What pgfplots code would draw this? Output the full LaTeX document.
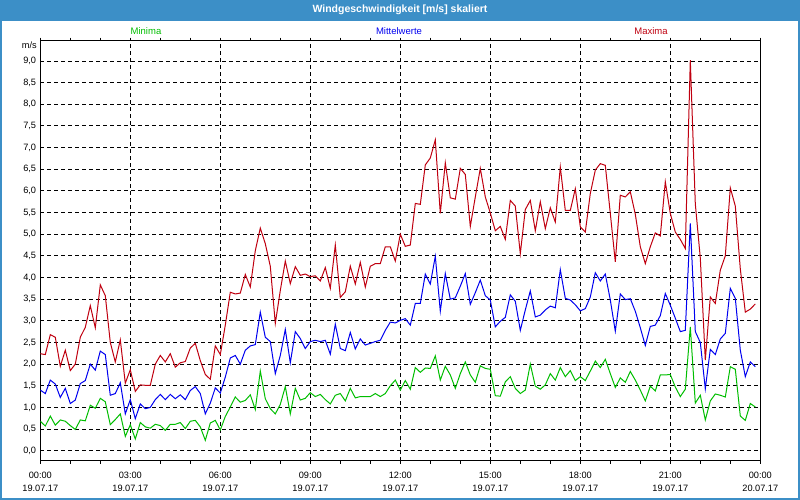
\documentclass[border=0pt]{standalone}
\usepackage{fontspec}
\setmainfont{Liberation Sans}
\usepackage{pgfplots}
\usepackage{pgfplotstable}
\pgfplotsset{compat=1.18}

\definecolor{barblue}{RGB}{60,143,199}
\definecolor{cmin}{RGB}{0,190,0}
\definecolor{cmean}{RGB}{0,0,240}
\definecolor{cmax}{RGB}{192,0,16}

% k = 10-minute step index from 19.07.17 00:00
\pgfplotstableread{
k lo avg hi
0 0.68 1.40 2.24
1 0.57 1.32 2.22
2 0.80 1.63 2.68
3 0.59 1.54 2.62
4 0.71 1.23 1.95
5 0.68 1.44 2.32
6 0.58 1.09 1.85
7 0.49 1.17 2.00
8 0.71 1.55 2.62
9 0.69 1.62 2.85
10 1.05 2.00 3.35
11 0.98 1.86 2.84
12 1.21 2.30 3.83
13 1.13 2.22 3.58
14 0.60 1.28 2.50
15 0.72 1.32 2.05
16 0.85 1.57 2.56
17 0.33 0.85 1.56
18 0.60 1.18 1.87
19 0.27 0.74 1.37
20 0.65 1.08 1.52
21 0.55 0.97 1.51
22 0.52 1.00 1.51
23 0.61 1.18 2.00
24 0.58 1.30 2.20
25 0.47 1.18 2.05
26 0.61 1.30 2.24
27 0.61 1.20 1.93
28 0.65 1.29 2.03
29 0.51 1.18 2.06
30 0.68 1.39 2.37
31 0.70 1.48 2.48
32 0.55 1.32 2.08
33 0.24 0.85 1.76
34 0.64 1.10 1.65
35 0.70 1.45 2.42
36 0.48 1.33 2.22
37 0.79 1.70 2.90
38 1.01 2.14 3.66
39 1.24 2.20 3.62
40 1.12 2.00 3.64
41 1.16 2.32 4.07
42 1.29 2.42 3.78
43 0.95 2.45 4.62
44 1.84 3.20 5.14
45 1.20 2.62 4.78
46 0.97 2.52 4.26
47 0.85 1.78 2.94
48 1.07 2.20 3.70
49 1.48 2.80 4.38
50 0.85 2.03 3.86
51 1.44 2.75 4.25
52 1.17 2.59 4.05
53 1.21 2.36 4.08
54 1.34 2.52 4.02
55 1.25 2.55 4.04
56 1.30 2.52 3.92
57 1.18 2.55 4.23
58 1.08 2.23 3.75
59 1.28 2.92 4.75
60 1.32 2.36 3.54
61 1.15 2.31 3.67
62 1.44 2.73 4.26
63 1.22 2.35 3.85
64 1.25 2.58 4.35
65 1.25 2.44 3.78
66 1.25 2.48 4.26
67 1.32 2.52 4.32
68 1.25 2.55 4.32
69 1.32 2.78 4.71
70 1.50 2.97 4.71
71 1.63 2.95 4.38
72 1.40 3.01 5.00
73 1.62 3.05 4.72
74 1.42 2.90 4.75
75 1.92 3.40 5.71
76 1.81 3.40 5.69
77 1.91 4.08 6.60
78 1.90 3.85 6.76
79 2.19 4.49 7.18
80 1.63 3.22 5.48
81 1.95 4.09 6.65
82 1.75 3.50 5.84
83 1.44 3.53 5.81
84 1.78 3.80 6.52
85 2.05 4.09 6.38
86 1.75 3.38 5.18
87 1.58 3.65 5.86
88 1.96 3.94 6.52
89 1.90 3.58 5.86
90 1.88 3.48 5.49
91 1.27 2.86 5.08
92 1.26 2.99 5.18
93 1.59 3.08 4.88
94 1.71 3.60 5.78
95 1.44 3.45 5.65
96 1.32 2.78 4.55
97 1.40 3.25 5.57
98 2.00 3.69 5.78
99 1.49 3.09 5.08
100 1.42 3.13 5.75
101 1.52 3.25 5.13
102 1.78 3.34 5.61
103 1.63 3.30 5.28
104 1.92 4.18 6.55
105 1.71 3.52 5.55
106 1.85 3.48 5.55
107 1.62 3.37 6.05
108 1.71 3.23 5.17
109 1.62 3.28 5.05
110 1.84 3.55 5.94
111 2.07 4.11 6.48
112 1.92 3.92 6.63
113 2.11 4.08 6.59
114 1.78 3.48 5.48
115 1.46 2.76 4.36
116 1.68 3.62 5.90
117 1.58 3.49 5.86
118 1.83 3.51 5.98
119 1.63 3.22 5.46
120 1.40 2.84 4.71
121 1.15 2.43 4.32
122 1.49 2.87 4.71
123 1.38 2.90 5.03
124 1.75 3.12 4.96
125 1.75 3.63 6.21
126 1.76 3.36 5.48
127 1.47 3.06 5.05
128 1.25 2.75 4.88
129 1.42 2.78 4.67
130 2.86 5.25 9.02
131 1.10 2.75 5.70
132 1.28 2.50 4.45
133 0.71 1.43 2.09
134 1.15 2.34 3.55
135 1.31 2.22 3.40
136 1.28 2.58 4.17
137 1.24 2.71 4.50
138 1.94 3.75 6.07
139 1.88 3.52 5.65
140 0.80 2.32 4.20
141 0.70 1.71 3.20
142 1.09 2.05 3.27
143 1.01 1.94 3.39
}\wind

\begin{document}
\begin{tikzpicture}
\useasboundingbox (0,0) rectangle (800pt,500pt);
\fill[white] (0,0) rectangle (800pt,500pt);
\fill[barblue] (0,479.3pt) rectangle (800pt,500pt);
\draw[barblue, line width=2pt] (1pt,1pt) rectangle (799pt,499pt);
\node[text=white, font=\bfseries\fontsize{10.5}{12}\selectfont] at (400pt,490pt) {Windgeschwindigkeit [m/s] skaliert};
\node[text=cmin, font=\fontsize{9.5}{11}\selectfont] at (146pt,469pt) {Minima};
\node[text=cmean, font=\fontsize{9.5}{11}\selectfont] at (399pt,469pt) {Mittelwerte};
\node[text=cmax, font=\fontsize{9.5}{11}\selectfont] at (651pt,469pt) {Maxima};
\node[anchor=east, inner sep=0pt, font=\fontsize{9.2}{11}\selectfont] at (37pt,454.5pt) {m/s};
\begin{axis}[
  at={(40.3pt,39.3pt)}, anchor=south west,
  scale only axis, width=720pt, height=420pt,
  xmin=0, xmax=144, ymin=-0.231, ymax=9.469,
  xtick={0,18,36,54,72,90,108,126,144},
  minor xtick={6,12,24,30,42,48,60,66,78,84,96,102,114,120,132,138},
  xticklabels={{00:00\\19.07.17},{03:00\\19.07.17},{06:00\\19.07.17},{09:00\\19.07.17},{12:00\\19.07.17},{15:00\\19.07.17},{18:00\\19.07.17},{21:00\\19.07.17},{00:00\\20.07.17}},
  xticklabel style={align=center, font=\fontsize{9.2}{13.5}\selectfont, inner sep=2pt, yshift=-6pt},
  ytick={0,0.5,1,1.5,2,2.5,3,3.5,4,4.5,5,5.5,6,6.5,7,7.5,8,8.5,9},
  yticklabel style={font=\fontsize{9.2}{11}\selectfont, inner sep=1pt,
    /pgf/number format/.cd, fixed, fixed zerofill, precision=1, use comma},
  /pgf/number format/assume math mode=true,
  tick align=outside, major tick length=3pt, minor tick length=3pt,
  ytick style={draw=none},
  tick style={black, line width=1pt},
  xmajorgrids, ymajorgrids,
  grid style={black, line width=1pt, dash pattern=on 4pt off 3pt},
  axis line style={line width=1pt, black},
]
\addplot[cmin, line width=1pt] table[x=k, y=lo]{\wind};
\addplot[cmean, line width=1pt] table[x=k, y=avg]{\wind};
\addplot[cmax, line width=1pt] table[x=k, y=hi]{\wind};
\end{axis}
\end{tikzpicture}
\end{document}
